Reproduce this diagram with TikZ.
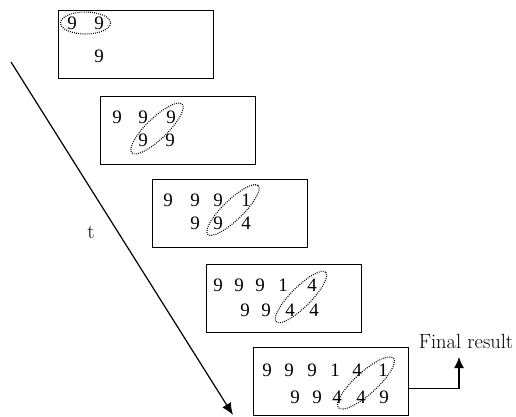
\documentclass[tikz,border=0pt]{standalone}
\usepackage{fontspec}
\newfontfamily\digitfont{Liberation Serif}
\usetikzlibrary{arrows.meta}
\begin{document}
\begin{tikzpicture}[x=1pt,y=-1pt,
  frame/.style={draw, line width=1.4pt, minimum width=155pt, minimum height=68pt, inner sep=0pt, anchor=north west},
  dig/.style={font=\digitfont\fontsize{19}{19}\selectfont, inner sep=0pt},
  dotloop/.style={draw, line width=1.1pt, dash pattern=on 0.9pt off 1.2pt},
  lbl/.style={font=\fontsize{20.5}{22}\selectfont, inner sep=0pt}
]
\useasboundingbox (0,0) rectangle (516,417);

% frames
\node[frame] (b1) at (58,10) {};
\node[frame] (b2) at (100,96) {};
\node[frame] (b3) at (152,179) {};
\node[frame] (b4) at (206,264) {};
\node[frame] (b5) at (253,347) {};

% box 1
\node[dig] (d1a) at (72,23) {9};
\node[dig] (d1b) at (99,23) {9};
\node[dig] (d1c) at (99,56) {9};
\draw[dotloop] (85.5,23) ellipse (25 and 11);

% box 2
\foreach \x/\d [count=\i] in {117/9,143/9,171/9} \node[dig] (d2r\i) at (\x,117) {\d};
\foreach \x/\d [count=\i] in {143/9,170/9} \node[dig] (d2s\i) at (\x,140) {\d};
\draw[dotloop, rotate around={44:(157,128.5)}] (157,128.5) ellipse (35 and 10.5);

% box 3
\foreach \x/\d [count=\i] in {168/9,195/9,218/9,246/1} \node[dig] (d3r\i) at (\x,200) {\d};
\foreach \x/\d [count=\i] in {195/9,218/9,246/4} \node[dig] (d3s\i) at (\x,223) {\d};
\draw[dotloop, rotate around={44:(233,210)}] (233,210) ellipse (35 and 10);

% box 4
\foreach \x/\d [count=\i] in {218/9,239/9,260/9,283/1,312/4} \node[dig] (d4r\i) at (\x,285) {\d};
\foreach \x/\d [count=\i] in {245/9,266/9,290/4,314/4} \node[dig] (d4s\i) at (\x,310) {\d};
\draw[dotloop, rotate around={45:(301,297)}] (301,297) ellipse (35 and 10);

% box 5
\foreach \x/\d [count=\i] in {267/9,289/9,312/9,335/1,357/4,383/1} \node[dig] (d5r\i) at (\x,370) {\d};
\foreach \x/\d [count=\i] in {295/9,317/9,337/4,361/4,384/9} \node[dig] (d5s\i) at (\x,397) {\d};
\draw[dotloop, rotate around={42:(366,383)}] (366,383) ellipse (37 and 11);

% time arrow
\coordinate (ts) at (11,62);
\coordinate (te) at (233,415);
\draw[line width=1.2pt, -{Latex[length=12pt,width=10pt]}] (ts) -- (te);
\node[lbl] (t) at (91,232) {t};

% final result
\node[lbl] (fr) at (466,341) {Final result};
\coordinate (frtip) at (459,357);
\draw[line width=1.2pt, -{Latex[length=11pt,width=10pt]}] ([yshift=-7pt]b5.east) -| (frtip);
\end{tikzpicture}
\end{document}
